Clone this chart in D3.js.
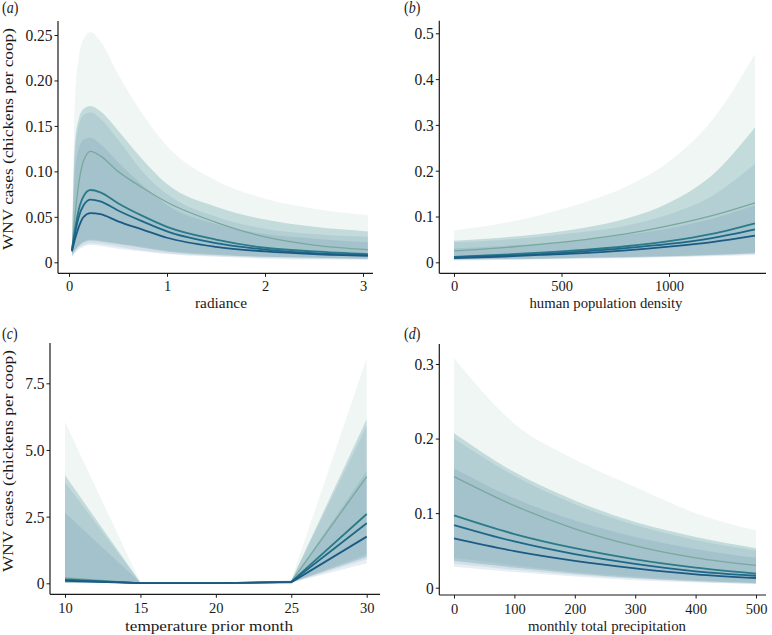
<!DOCTYPE html>
<html>
<head>
<meta charset="utf-8">
<script src="https://cdn.jsdelivr.net/npm/d3@7"></script>
<style>
  body { margin: 0; background: #fff; }
  text { font-family: "Liberation Serif", "DejaVu Serif", serif; fill: #1a1a1a; }
</style>
</head>
<body>
<svg id="chart" width="772" height="635"></svg>
<script>
// four model curves per panel (light green first, darkest blue last)
const radX = [0.03, 0.06, 0.1, 0.15, 0.22, 0.32, 0.5, 0.75, 1, 1.5, 2, 2.5, 3.05];
const radMean = [
  [0.014, 0.05, 0.087, 0.112, 0.122, 0.117, 0.1, 0.082, 0.066, 0.044, 0.028, 0.019, 0.014],
  [0.013, 0.035, 0.058, 0.073, 0.0795, 0.077, 0.065, 0.051, 0.039, 0.025, 0.016, 0.012, 0.009],
  [0.013, 0.031, 0.05, 0.063, 0.069, 0.067, 0.057, 0.045, 0.034, 0.021, 0.014, 0.01, 0.008],
  [0.012, 0.025, 0.039, 0.05, 0.054, 0.053, 0.045, 0.036, 0.027, 0.017, 0.012, 0.009, 0.007]
];
const radLow = [
  [0.008, 0.013, 0.019, 0.023, 0.025, 0.024, 0.021, 0.017, 0.013, 0.009, 0.006, 0.005, 0.004],
  [0.008, 0.013, 0.018, 0.022, 0.024, 0.023, 0.02, 0.016, 0.012, 0.008, 0.006, 0.005, 0.004],
  [0.007, 0.011, 0.016, 0.019, 0.021, 0.02, 0.017, 0.013, 0.01, 0.007, 0.005, 0.004, 0.003],
  [0.006, 0.01, 0.014, 0.017, 0.019, 0.018, 0.015, 0.012, 0.009, 0.006, 0.004, 0.003, 0.003]
];
const radHigh = [
  [0.02, 0.178, 0.225, 0.246, 0.253, 0.243, 0.207, 0.163, 0.128, 0.09, 0.07, 0.059, 0.052],
  [0.018, 0.13, 0.158, 0.169, 0.172, 0.166, 0.145, 0.113, 0.086, 0.061, 0.047, 0.039, 0.034],
  [0.017, 0.12, 0.15, 0.162, 0.165, 0.158, 0.135, 0.1, 0.075, 0.05, 0.037, 0.031, 0.028],
  [0.016, 0.1, 0.125, 0.135, 0.137, 0.13, 0.11, 0.085, 0.063, 0.042, 0.031, 0.026, 0.022]
];

const popX = [0, 200, 400, 600, 800, 1000, 1200, 1400];
const popMean = [
  [0.025, 0.031, 0.039, 0.049, 0.062, 0.08, 0.102, 0.13],
  [0.012, 0.016, 0.021, 0.027, 0.035, 0.046, 0.062, 0.085],
  [0.011, 0.014, 0.018, 0.024, 0.031, 0.04, 0.053, 0.072],
  [0.009, 0.012, 0.016, 0.02, 0.026, 0.034, 0.044, 0.058]
];
const popLow = [
  [0.007, 0.008, 0.009, 0.01, 0.012, 0.014, 0.017, 0.021],
  [0.006, 0.007, 0.008, 0.01, 0.011, 0.013, 0.016, 0.02],
  [0.005, 0.006, 0.007, 0.009, 0.01, 0.012, 0.015, 0.018],
  [0.004, 0.005, 0.006, 0.008, 0.009, 0.011, 0.013, 0.016]
];
const popHigh = [
  [0.07, 0.083, 0.103, 0.13, 0.165, 0.22, 0.31, 0.455],
  [0.047, 0.053, 0.062, 0.075, 0.095, 0.13, 0.19, 0.295],
  [0.043, 0.048, 0.056, 0.066, 0.08, 0.105, 0.145, 0.215],
  [0.03, 0.035, 0.041, 0.049, 0.06, 0.074, 0.095, 0.125]
];

const tempX = [10, 15, 20, 25, 30];
const tempMean = [
  [0.2, 0.01, 0.005, 0.06, 4.0],
  [0.15, 0.01, 0.005, 0.05, 2.6],
  [0.12, 0.01, 0.004, 0.05, 2.25],
  [0.09, 0.01, 0.004, 0.04, 1.75]
];
const tempLow = [
  [0.02, 0, 0, 0.03, 1.1],
  [0.02, 0, 0, 0.03, 1.0],
  [0.01, 0, 0, 0.02, 0.9],
  [0.01, 0, 0, 0.02, 0.75]
];
const tempHigh = [
  [6.05, 0.03, 0.01, 0.12, 8.45],
  [4.05, 0.03, 0.01, 0.1, 6.15],
  [3.8, 0.02, 0.01, 0.1, 5.9],
  [2.65, 0.02, 0.01, 0.08, 4.2]
];

const precX = [0, 100, 200, 300, 400, 500];
const precMean = [
  [0.149, 0.11, 0.079, 0.056, 0.04, 0.03],
  [0.097, 0.072, 0.053, 0.038, 0.027, 0.019],
  [0.084, 0.062, 0.045, 0.032, 0.022, 0.016],
  [0.066, 0.049, 0.036, 0.026, 0.018, 0.013]
];
const precLow = [
  [0.04, 0.03, 0.021, 0.015, 0.01, 0.007],
  [0.036, 0.027, 0.019, 0.013, 0.009, 0.006],
  [0.032, 0.024, 0.017, 0.012, 0.008, 0.005],
  [0.028, 0.021, 0.015, 0.01, 0.007, 0.005]
];
const precHigh = [
  [0.308, 0.22, 0.172, 0.135, 0.1, 0.077],
  [0.207, 0.155, 0.117, 0.088, 0.068, 0.053],
  [0.2, 0.15, 0.112, 0.084, 0.064, 0.05],
  [0.16, 0.12, 0.09, 0.068, 0.052, 0.04]
];

// tick values and labels
const radXTicks = [0, 1, 2, 3];
const radYTicks = [0, 0.05, 0.1, 0.15, 0.2, 0.25];
const radYLabels = ['0', '0.05', '0.10', '0.15', '0.20', '0.25'];
const popXTicks = [0, 500, 1000];
const popYTicks = [0, 0.1, 0.2, 0.3, 0.4, 0.5];
const popYLabels = ['0', '0.1', '0.2', '0.3', '0.4', '0.5'];
const tempXTicks = [10, 15, 20, 25, 30];
const tempYTicks = [0, 2.5, 5, 7.5];
const tempYLabels = ['0', '2.5', '5.0', '7.5'];
const precXTicks = [0, 100, 200, 300, 400, 500];
const precYTicks = [0, 0.1, 0.2, 0.3];
const precYLabels = ['0', '0.1', '0.2', '0.3'];

const lineColor = ['#78a99c', '#2b7a87', '#1d6889', '#1c5a85'];
const lineWidth = [1.3, 1.8, 1.8, 1.8];
const ribbonFill = ['#8cbfae', '#2e7c8a', '#1e6a8a', '#1d5a88'];
const ribbonAlpha = [0.14, 0.22, 0.1, 0.1];

const yTitle = 'WNV cases (chickens per coop)';

const panels = [
  { tag: 'a', title: 'radiance', x: radX, mean: radMean, low: radLow, high: radHigh,
    xd: [0, 3], xr: [69, 363], yd: [0, 0.25], yr: [262.3, 35],
    axX: 58, axTop: 21, axY: 273.3, axRight: 373,
    xt: radXTicks, yt: radYTicks, ytl: radYLabels,
    tickBase: 291, titleX: 221, titleY: 307.5, titleSize: 15, titleLen: 52,
    labX: 2, labY: 12.5, yTitleY: 139, yTitleLen: 222 },
  { tag: 'b', title: 'human population density', x: popX, mean: popMean, low: popLow, high: popHigh,
    xd: [0, 1000], xr: [454, 669], yd: [0, 0.5], yr: [262.3, 33.3],
    axX: 439.3, axTop: 20.7, axY: 273.3, axRight: 766,
    xt: popXTicks, yt: popYTicks, ytl: popYLabels,
    tickBase: 291, titleX: 606, titleY: 307.5, titleSize: 15, titleLen: 153,
    labX: 404, labY: 12.5 },
  { tag: 'c', title: 'temperature prior month', x: tempX, mean: tempMean, low: tempLow, high: tempHigh,
    xd: [10, 30], xr: [65, 366.7], yd: [0, 7.5], yr: [583.3, 383.3],
    axX: 50, axTop: 343, axY: 594.3, axRight: 380,
    xt: tempXTicks, yt: tempYTicks, ytl: tempYLabels, linear: true,
    tickBase: 613.5, titleX: 209, titleY: 630.5, titleSize: 15, titleLen: 168,
    labX: 2, labY: 339, yTitleY: 461, yTitleLen: 222 },
  { tag: 'd', title: 'monthly total precipitation', x: precX, mean: precMean, low: precLow, high: precHigh,
    xd: [0, 500], xr: [454, 756], yd: [0, 0.3], yr: [587.7, 364],
    axX: 439.3, axTop: 344, axY: 595, axRight: 766,
    xt: precXTicks, yt: precYTicks, ytl: precYLabels,
    tickBase: 614, titleX: 607, titleY: 630.5, titleSize: 15, titleLen: 158,
    labX: 404, labY: 339 }
];

const svg = d3.select('#chart');

function drawPanel(p) {
  const g = svg.append('g').attr('class', 'panel-' + p.tag);
  const x = d3.scaleLinear().domain(p.xd).range(p.xr);
  const y = d3.scaleLinear().domain(p.yd).range(p.yr);
  const curve = p.linear ? d3.curveLinear : d3.curveMonotoneX;

  // ribbons
  p.high.forEach((hi, s) => {
    const area = d3.area()
      .x((d, i) => x(p.x[i]))
      .y0((d, i) => y(p.low[s][i]))
      .y1(d => y(d))
      .curve(curve);
    g.append('path')
      .attr('d', area(hi))
      .attr('fill', ribbonFill[s])
      .attr('fill-opacity', ribbonAlpha[s]);
  });

  // mean lines
  p.mean.forEach((m, s) => {
    const line = d3.line()
      .x((d, i) => x(p.x[i]))
      .y(d => y(d))
      .curve(curve);
    g.append('path')
      .attr('d', line(m))
      .attr('fill', 'none')
      .attr('stroke', lineColor[s])
      .attr('stroke-width', lineWidth[s]);
  });

  // y axis
  const yAxis = d3.axisLeft(y)
    .tickValues(p.yt)
    .tickFormat((d, i) => p.ytl[i])
    .tickSize(3.5)
    .tickPadding(2);
  const gy = g.append('g').attr('transform', `translate(${p.axX},0)`).call(yAxis);
  gy.select('.domain').remove();
  gy.selectAll('line').attr('stroke', '#1a1a1a').attr('stroke-width', 1);
  gy.selectAll('text')
    .style('font-size', '15.5px')
    .attr('transform', 'scale(1,1.08)');

  // x axis
  const xAxis = d3.axisBottom(x)
    .tickValues(p.xt)
    .tickFormat(d3.format('d'))
    .tickSize(3.5);
  const gx = g.append('g').attr('transform', `translate(0,${p.axY})`).call(xAxis);
  gx.select('.domain').remove();
  gx.selectAll('line').attr('stroke', '#1a1a1a').attr('stroke-width', 1);
  gx.selectAll('text')
    .style('font-size', '14.5px')
    .attr('y', p.tickBase - p.axY)
    .attr('dy', null);

  // axis lines
  g.append('line')
    .attr('x1', p.axX).attr('x2', p.axX)
    .attr('y1', p.axTop).attr('y2', p.axY)
    .attr('stroke', '#1a1a1a').attr('stroke-width', 1.2);
  g.append('line')
    .attr('x1', p.axX).attr('x2', p.axRight)
    .attr('y1', p.axY).attr('y2', p.axY)
    .attr('stroke', '#1a1a1a').attr('stroke-width', 1.2);

  // x title
  g.append('text')
    .attr('x', p.titleX)
    .attr('y', p.titleY)
    .attr('text-anchor', 'middle')
    .attr('textLength', p.titleLen)
    .attr('lengthAdjust', 'spacingAndGlyphs')
    .style('font-size', p.titleSize + 'px')
    .text(p.title);

  // y title (left column only)
  if (p.yTitleY) {
    g.append('text')
      .attr('transform', `translate(13,${p.yTitleY}) rotate(-90)`)
      .attr('text-anchor', 'middle')
      .attr('textLength', p.yTitleLen)
      .attr('lengthAdjust', 'spacingAndGlyphs')
      .style('font-size', '15.5px')
      .text(yTitle);
  }

  // panel tag
  const lab = g.append('text')
    .attr('transform', `translate(${p.labX},${p.labY}) scale(1,1.12)`)
    .style('font-size', '14px');
  lab.append('tspan').text('(');
  lab.append('tspan').style('font-style', 'italic').text(p.tag);
  lab.append('tspan').text(')');
}

panels.forEach(drawPanel);
</script>
</body>
</html>
